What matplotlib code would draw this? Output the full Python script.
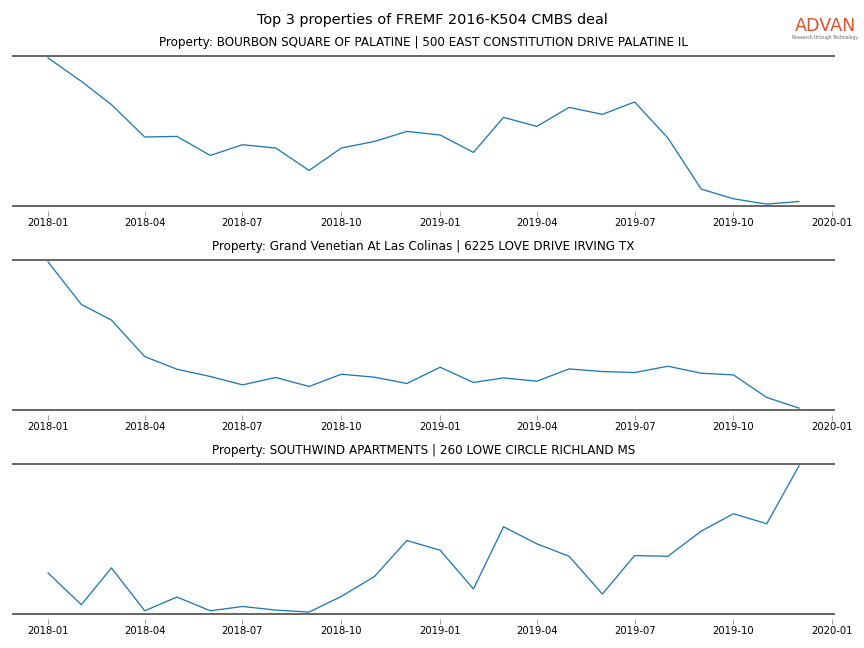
import matplotlib
matplotlib.use("Agg")
import matplotlib.pyplot as plt
import matplotlib.dates as mdates
import pandas as pd
import numpy as np

# monthly series, Jan 2018 - Dec 2019 (relative units)
months = pd.date_range("2018-01-01", periods=24, freq="MS")

titles = [
    "Property: BOURBON SQUARE OF PALATINE | 500 EAST CONSTITUTION DRIVE PALATINE IL",
    "Property: Grand Venetian At Las Colinas | 6225 LOVE DRIVE IRVING TX",
    "Property: SOUTHWIND APARTMENTS | 260 LOWE CIRCLE RICHLAND MS",
]

bourbon = [147.4, 124.0, 100.7, 68.4, 69.0, 50.0, 60.7, 57.4, 35.0, 57.4, 64.0, 74.0,
           70.4, 53.0, 88.0, 79.0, 98.0, 91.0, 103.4, 67.4, 16.4, 6.7, 1.4, 4.0]
venetian = [147.7, 105.0, 89.3, 52.7, 40.0, 32.7, 24.3, 31.7, 22.7, 35.0, 32.0, 25.7,
            42.0, 26.7, 31.3, 28.0, 40.3, 37.7, 36.7, 43.0, 36.0, 34.3, 11.7, 1.0]
southwind = [41.0, 9.3, 46.0, 3.3, 17.0, 3.3, 7.6, 4.0, 2.0, 17.6, 37.6, 73.3,
             63.6, 25.0, 87.0, 70.0, 57.6, 20.0, 58.3, 57.6, 82.6, 100.0, 90.0, 147.6]

series = [bourbon, venetian, southwind]

fig = plt.figure(figsize=(12, 9), dpi=72)
fig.suptitle("Top 3 properties of FREMF 2016-K504 CMBS deal", y=0.969, va="center", fontsize=14.4)

tops = [56, 260, 464]
for i in range(3):
    top = 1 - tops[i] / 648
    ax = fig.add_axes([12 / 864, top - 150 / 648, 823 / 864, 150 / 648])
    ax.plot(months, series[i], color="#1f77b4", linewidth=1.3)
    ax.margins(x=0.048, y=0.013)
    ax.set_title(titles[i], fontsize=12, pad=10)
    for s in ["left", "right", "top"]:
        ax.spines[s].set_visible(False)
    # ticks sit a little below the dark rule, so the real spine is pushed out and hidden
    ax.spines["bottom"].set_position(("outward", 5))
    ax.spines["bottom"].set_color("none")
    for yy in [0, 1]:
        ax.plot([0, 1], [yy, yy], transform=ax.transAxes, color="#444444",
                linewidth=1.6, clip_on=False, solid_capstyle="butt")
    ax.set_yticks([])
    ax.xaxis.set_major_locator(mdates.MonthLocator(bymonth=[1, 4, 7, 10]))
    ax.xaxis.set_major_formatter(mdates.DateFormatter("%Y-%m"))
    ax.tick_params(axis="x", labelsize=10, length=5, width=0.8, pad=1.5, color="#888888")

# logo
fig.text(825 / 864, 1 - 26 / 648, "ADVAN", color="#e0532b", fontsize=17.5,
         ha="center", va="center")
fig.text(825 / 864, 1 - 37.5 / 648, "Research through Technology", color="#666666",
         fontsize=4.5, ha="center", va="center")

plt.savefig("out.png")
